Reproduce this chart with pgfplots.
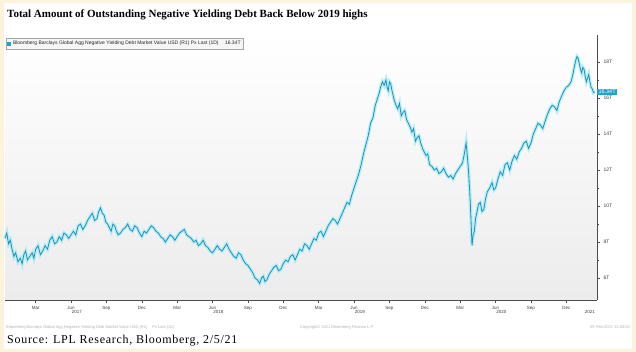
\documentclass[border=0pt]{standalone}
\usepackage{fontspec}
\setmainfont{Liberation Serif}
\setsansfont{Liberation Sans}
\usepackage{pgfplots}
\pgfplotsset{compat=1.18}
\usepackage{pgfplotstable}
\definecolor{cream}{HTML}{FCF3DC}
\definecolor{bbline}{HTML}{1A93BA}
\definecolor{bbglow}{HTML}{A6EAF6}
\definecolor{bblabel}{HTML}{1FA3CC}

% months since Jan 2017 ; trillions USD
\pgfplotstableread{
m v
-0.6 8.2
-0.45 8.5
-0.3 7.9
-0.15 8.1
0.0 7.6
0.15 7.2
0.3 7.4
0.5 6.9
0.7 7.1
0.85 6.8
1.0 7.3
1.15 7.5
1.3 7.0
1.5 7.2
1.7 7.4
1.85 7.1
2.0 7.6
2.2 7.8
2.4 7.3
2.6 7.5
2.8 7.8
3.0 7.6
3.2 8.1
3.4 8.3
3.6 7.9
3.8 8.0
4.0 8.3
4.2 8.1
4.4 8.5
4.6 8.4
4.8 8.2
5.0 8.4
5.2 8.6
5.4 8.4
5.6 8.9
5.8 9.0
6.0 8.7
6.2 8.9
6.4 9.2
6.6 9.4
6.8 9.6
7.0 9.2
7.2 9.3
7.35 9.7
7.5 9.9
7.65 9.6
7.8 9.5
7.95 9.1
8.1 9.0
8.25 8.8
8.4 8.6
8.55 9.0
8.7 8.9
8.85 8.6
9.0 8.4
9.2 8.5
9.4 8.7
9.6 8.8
9.8 9.0
10.0 8.7
10.2 8.6
10.4 8.9
10.6 8.8
10.8 8.5
11.0 8.3
11.2 8.6
11.4 8.5
11.6 8.7
11.8 8.9
12.0 8.8
12.2 8.6
12.4 8.5
12.6 8.3
12.8 8.2
13.0 8.0
13.2 8.2
13.4 8.4
13.6 8.3
13.8 8.1
14.0 8.3
14.2 8.5
14.4 8.6
14.6 8.7
14.8 8.4
15.0 8.3
15.2 8.2
15.4 8.0
15.6 8.1
15.8 7.8
16.0 7.9
16.2 8.1
16.4 7.8
16.6 7.7
16.8 7.5
17.0 7.4
17.2 7.6
17.4 7.8
17.6 7.6
17.8 7.5
18.0 7.7
18.2 7.9
18.4 7.6
18.6 7.4
18.8 7.2
19.0 7.1
19.2 7.4
19.4 7.3
19.6 7.0
19.8 6.8
20.0 6.7
20.2 6.5
20.4 6.3
20.6 6.0
20.8 5.9
21.0 5.7
21.15 6.0
21.3 6.1
21.45 5.8
21.6 5.9
21.8 6.2
22.0 6.4
22.2 6.6
22.4 6.7
22.6 6.4
22.8 6.5
23.0 6.8
23.2 7.0
23.4 6.9
23.6 7.2
23.8 7.3
24.0 7.0
24.2 7.3
24.4 7.6
24.6 7.5
24.8 7.9
25.0 7.8
25.2 7.6
25.4 7.9
25.6 8.2
25.8 8.1
26.0 8.5
26.2 8.6
26.4 8.3
26.6 8.6
26.8 8.9
27.0 9.1
27.2 9.3
27.4 9.2
27.6 9.0
27.8 9.3
28.0 9.6
28.2 9.9
28.4 10.2
28.6 10.1
28.8 10.6
29.0 11.0
29.2 11.4
29.4 11.8
29.6 12.3
29.8 12.9
30.0 13.4
30.2 13.9
30.4 14.6
30.6 14.9
30.8 15.6
30.95 15.9
31.1 16.2
31.25 16.6
31.4 16.9
31.55 16.7
31.7 17.0
31.8 16.6
31.9 16.4
32.0 16.9
32.1 16.8
32.25 16.3
32.4 15.9
32.55 15.6
32.7 15.4
32.85 15.7
33.0 15.0
33.15 15.2
33.3 15.3
33.45 14.8
33.6 14.6
33.75 14.4
33.9 14.1
34.05 14.3
34.2 13.6
34.35 13.8
34.5 13.9
34.65 13.5
34.8 13.2
34.95 13.0
35.1 12.8
35.25 12.9
35.4 12.3
35.6 12.2
35.8 12.0
36.0 12.1
36.2 11.8
36.4 11.9
36.6 12.1
36.8 11.8
37.0 11.6
37.2 11.7
37.4 11.5
37.6 11.8
37.8 12.0
38.0 12.2
38.2 12.4
38.35 12.9
38.5 13.5
38.6 12.8
38.7 12.0
38.8 10.9
38.9 9.5
39.0 7.8
39.1 8.4
39.2 8.6
39.3 9.3
39.4 9.6
39.55 10.1
39.7 10.2
39.85 9.7
40.0 9.8
40.15 10.4
40.3 10.8
40.5 11.0
40.7 11.3
40.85 10.9
41.0 11.0
41.2 11.5
41.4 11.9
41.6 11.7
41.8 12.3
42.0 12.4
42.2 12.0
42.4 12.5
42.6 12.8
42.8 12.6
43.0 13.0
43.2 13.2
43.4 13.5
43.6 13.6
43.8 13.2
44.0 13.5
44.2 14.0
44.4 14.3
44.6 14.6
44.8 14.5
45.0 14.3
45.2 14.7
45.4 15.1
45.6 15.4
45.8 15.6
46.0 15.5
46.2 15.3
46.4 15.8
46.6 16.1
46.8 16.4
47.0 16.6
47.2 16.7
47.4 16.9
47.55 17.3
47.7 17.8
47.8 18.1
47.9 18.3
48.0 18.2
48.1 17.9
48.2 17.6
48.3 17.4
48.4 17.7
48.5 17.6
48.6 17.2
48.7 16.9
48.8 17.1
48.9 17.3
49.0 16.9
49.1 16.6
49.2 16.5
49.3 16.3
49.4 16.34
}\debt

\begin{document}
\begin{tikzpicture}[x=1pt,y=1pt]
\fill[cream] (0,0) rectangle (636,352);
\fill[white] (4,3) rectangle (632,349);
\node[anchor=west,inner sep=0pt,font=\bfseries\fontsize{11}{13}\selectfont] at (7,337)
  {Total Amount of Outstanding Negative Yielding Debt Back Below 2019 highs};
\begin{axis}[
  at={(5pt,52pt)}, anchor=south west,
  scale only axis, width=592pt, height=265pt,
  xmin=-0.6, xmax=49.6, ymin=4.78, ymax=19.5,
  axis x line*=bottom, axis y line*=right,
  axis line style={gray!60!black, line width=0.6pt},
  axis background/.style={shade, top color=white, bottom color=gray!15},
  clip=false,
  tick align=outside, major tick length=3pt, minor tick length=1.5pt,
  tick style={gray!60!black, line width=0.4pt},
  ytick={6,8,10,12,14,16,18},
  yticklabels={6T,8T,10T,12T,14T,16T,18T},
  minor y tick num=1,
  yticklabel style={font=\sffamily\fontsize{5}{6}\selectfont, text=gray!50!black},
  xtick={2,5,8,11,14,17,20,23,26,29,32,35,38,41,44,47},
  xticklabels={Mar,Jun,Sep,Dec,Mar,Jun,Sep,Dec,Mar,Jun,Sep,Dec,Mar,Jun,Sep,Dec},
  xticklabel style={font=\sffamily\fontsize{4.5}{5}\selectfont, text=gray!50!black},
  extra x ticks={5.5,17.5,29.5,41.5,49},
  extra x tick labels={2017,2018,2019,2020,2021},
  extra x tick style={major tick length=0pt, tick label style={yshift=-7pt}},
  legend style={at={(rel axis cs:0,1)}, anchor=north west, xshift=1pt, yshift=-3pt,
    font=\sffamily\fontsize{5}{5.5}\selectfont, text=gray!30!black,
    draw=gray!70, fill=gray!8, inner sep=1pt},
  legend cell align=left,
  legend image code/.code={\fill[bblabel] (0pt,-1.5pt) rectangle (3pt,1.5pt);},
]
\addplot[bbglow, line width=3.4pt, opacity=0.75, forget plot] table[x=m,y=v] {\debt};
\addplot[bbline, line width=0.8pt] table[x=m,y=v] {\debt};
\addlegendentry{Bloomberg Barclays Global Agg Negative Yielding Debt Market Value USD (R1) Px Last (1D) \quad 16.34T}
\node[fill=bblabel, text=white, anchor=west, inner sep=1.3pt,
  font=\sffamily\fontsize{5.5}{6}\selectfont] at (axis cs:49.6,16.34) {16.34T};
\end{axis}
\node[anchor=west,inner sep=0pt,text=gray!60,font=\sffamily\fontsize{4}{5}\selectfont] at (6,25)
  {Bloomberg Barclays Global Agg Negative Yielding Debt Market Value USD (R1) \quad Px Last (1D)};
\node[anchor=west,inner sep=0pt,text=gray!60,font=\sffamily\fontsize{4}{5}\selectfont] at (300,25)
  {Copyright\textcopyright\ 2021 Bloomberg Finance L.P.};
\node[anchor=east,inner sep=0pt,text=gray!60,font=\sffamily\fontsize{4}{5}\selectfont] at (630,25)
  {05-Feb-2021 12:00:00};
\node[anchor=west,inner sep=0pt,font=\addfontfeatures{LetterSpace=6}\fontsize{12}{14}\selectfont] at (7,11)
  {Source: LPL Research, Bloomberg, 2/5/21};
\end{tikzpicture}
\end{document}
